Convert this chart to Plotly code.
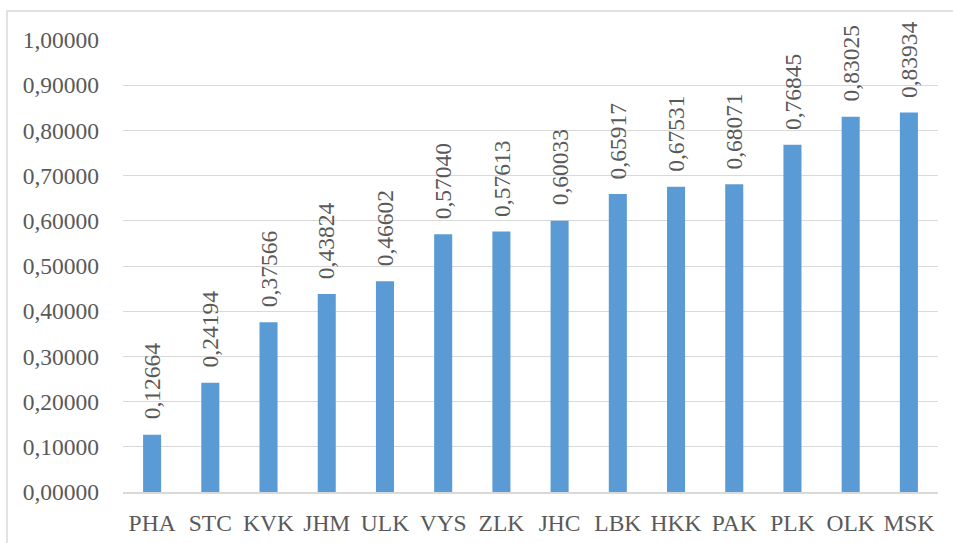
import plotly.graph_objects as go

regions = ["PHA", "STC", "KVK", "JHM", "ULK", "VYS", "ZLK", "JHC",
           "LBK", "HKK", "PAK", "PLK", "OLK", "MSK"]
values = [0.12664, 0.24194, 0.37566, 0.43824, 0.46602, 0.57040, 0.57613,
          0.60033, 0.65917, 0.67531, 0.68071, 0.76845, 0.83025, 0.83934]

labels = [f"{v:.5f}".replace(".", ",") for v in values]

FONT = "Liberation Serif, Times New Roman, serif"
GREY = "#595959"
FS = 23.5

fig = go.Figure(go.Bar(
    x=regions,
    y=values,
    marker=dict(color="#5b9bd5", line=dict(width=0)),
    cliponaxis=False,
))

# vertical value labels above each bar
for r, v, t in zip(regions, values, labels):
    fig.add_annotation(x=r, y=v, text=t, textangle=-90, showarrow=False,
                       xanchor="center", yanchor="bottom", yshift=13,
                       font=dict(family=FONT, size=FS, color=GREY))

W, H = 953, 543
ml, mr, mt, mb = 123, 15, 40, 51
pw, ph = W - ml - mr, H - mt - mb

# outer chart frame (only left and top edges fall inside the page)
fig.add_shape(type="rect", xref="paper", yref="paper",
              x0=(7 - ml) / pw, x1=1 + (mr + 20) / pw,
              y0=-(mb + 20) / ph, y1=1 + (mt - 11) / ph,
              line=dict(color="#d9d9d9", width=1.5), layer="below")

fig.update_layout(
    width=W, height=H,
    margin=dict(l=ml, r=mr, t=mt, b=mb, autoexpand=False),
    paper_bgcolor="white", plot_bgcolor="white",
    separators=", ",
    bargap=0.69,
    showlegend=False,
    font=dict(family=FONT, size=FS, color=GREY),
)
fig.update_yaxes(
    range=[0, 1.0], dtick=0.1, tickformat=".5f",
    showgrid=True, gridcolor="#d9d9d9", gridwidth=1,
    zeroline=False, showline=False, ticks="",
    ticklabelstandoff=23, automargin=False,
    tickfont=dict(family=FONT, size=FS, color=GREY),
)
fig.update_xaxes(
    showline=True, linecolor="#d9d9d9", linewidth=1.5,
    ticks="", ticklabelstandoff=9, automargin=False,
    tickfont=dict(family=FONT, size=FS, color=GREY),
)

fig.write_html("out.html")
